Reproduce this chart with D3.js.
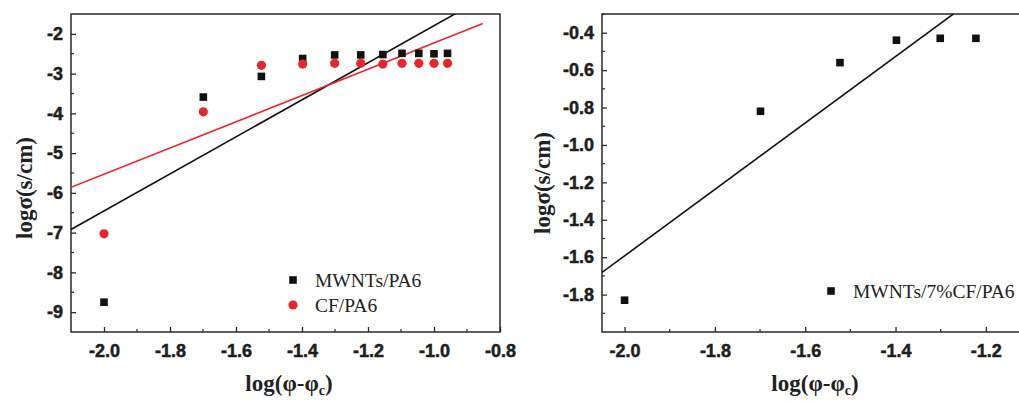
<!DOCTYPE html>
<html><head><meta charset="utf-8">
<script src="https://cdn.jsdelivr.net/npm/d3@7"></script>
<style>
body{margin:0;background:#fff;}
svg{display:block;}
</style></head>
<body>
<svg id="chart" width="1019" height="401"></svg>
<script>
// ---- data ----
const xLeft = [-2.0, -1.699, -1.523, -1.398, -1.301, -1.222, -1.155, -1.097, -1.046, -1.0, -0.959];
const mwntsPA6 = [-8.75, -3.59, -3.07, -2.62, -2.53, -2.53, -2.52, -2.49, -2.49, -2.50, -2.49];
const cfPA6 = [-7.03, -3.96, -2.79, -2.76, -2.74, -2.74, -2.76, -2.74, -2.74, -2.74, -2.74];
const xRight = [-2.0, -1.699, -1.523, -1.398, -1.301, -1.222];
const mwnts7cf = [-1.83, -0.82, -0.56, -0.44, -0.43, -0.43];
// linear fits: [intercept, slope, xStart, xEnd]
const fitMWNTs = [2.866, 4.66, -2.1, -0.8];
const fitCF = [1.07, 3.30, -2.1, -0.852];
const fitMix = [1.959, 1.776, -2.05, -1.1];
const xTicksLeft = [-2.0, -1.8, -1.6, -1.4, -1.2, -1.0, -0.8];
const yTicksLeft = [-9, -8, -7, -6, -5, -4, -3, -2];
const xTicksRight = [-2.0, -1.8, -1.6, -1.4, -1.2];
const yTicksRight = [-1.8, -1.6, -1.4, -1.2, -1.0, -0.8, -0.6, -0.4];

const svg = d3.select("#chart");
const RED = "#e8262b", AX = "#2a2a2a";
const hy = f => d => f(d).replace("\u2212", "-");

function panel(opt){
  const g = svg.append("g");
  const x = d3.scaleLinear().domain(opt.xDom).range([opt.left, opt.right]);
  const y = d3.scaleLinear().domain(opt.yDom).range([opt.bottom, opt.top]);
  const id = "clip" + opt.name;
  svg.append("clipPath").attr("id", id).append("rect")
    .attr("x", opt.left).attr("y", opt.top)
    .attr("width", opt.right - opt.left).attr("height", opt.bottom - opt.top);

  const xMinor = d3.range(Math.round(opt.xDom[0]*10), Math.round(opt.xDom[1]*10)+1).map(d=>d/10);
  const xa = d3.axisBottom(x).tickValues(opt.xTicks).tickFormat(hy(d3.format(".1f"))).tickSizeInner(-5).tickSizeOuter(0).tickPadding(12);
  const ya = d3.axisLeft(y).tickValues(opt.yTicks).tickFormat(hy(opt.yFmt)).tickSizeInner(-5).tickSizeOuter(0).tickPadding(8);
  const gx = g.append("g").attr("transform", `translate(0,${opt.bottom})`).call(xa);
  const gy = g.append("g").attr("transform", `translate(${opt.left},0)`).call(ya);
  [gx, gy].forEach(a => {
    a.select(".domain").remove();
    a.attr("font-family", null).attr("font-size", null);
    a.selectAll("line").attr("stroke", AX).attr("stroke-width", 1.3);
    a.selectAll("text").attr("font-family", "Arial, 'Liberation Sans', sans-serif").attr("font-weight", 700)
      .attr("font-size", 18).attr("fill", "#1e1e1e").attr("stroke", "#1e1e1e").attr("stroke-width", 0.5);
  });
  g.append("g").selectAll("line").data(xMinor.filter(v => !opt.xTicks.some(t => Math.abs(t - v) < 1e-6) && v > opt.xDom[0] && v < opt.xDom[1]))
    .join("line").attr("x1", d => x(d)).attr("x2", d => x(d)).attr("y1", opt.bottom).attr("y2", opt.bottom - 3)
    .attr("stroke", AX).attr("stroke-width", 1.2);
  const yMinorVals = opt.yTicks.map(v => v + opt.yMinor).concat([opt.yTicks[0] - opt.yMinor]).filter(v => v > opt.yDom[0] && v < opt.yDom[1]);
  g.append("g").selectAll("line").data(yMinorVals)
    .join("line").attr("y1", d => y(d)).attr("y2", d => y(d)).attr("x1", opt.left).attr("x2", opt.left + 3)
    .attr("stroke", AX).attr("stroke-width", 1.2);
  g.append("rect").attr("x", opt.left).attr("y", opt.top).attr("width", opt.right - opt.left).attr("height", opt.bottom - opt.top)
    .attr("fill", "none").attr("stroke", AX).attr("stroke-width", 1.5);

  const plot = g.append("g").attr("clip-path", `url(#${id})`);
  opt.fits.forEach(f => {
    const [a, b, x0, x1] = f.p;
    plot.append("line").attr("x1", x(x0)).attr("y1", y(a + b*x0)).attr("x2", x(x1)).attr("y2", y(a + b*x1))
      .attr("stroke", f.color).attr("stroke-width", 1.6);
  });
  opt.series.forEach(s => {
    const pts = s.xs.map((v, i) => [v, s.ys[i]]);
    if (s.shape === "square") {
      plot.append("g").selectAll("rect").data(pts).join("rect")
        .attr("x", d => x(d[0]) - 3.8).attr("y", d => y(d[1]) - 3.8).attr("width", 7.6).attr("height", 7.6).attr("fill", s.color);
    } else {
      plot.append("g").selectAll("circle").data(pts).join("circle")
        .attr("cx", d => x(d[0])).attr("cy", d => y(d[1])).attr("r", 4.6).attr("fill", s.color);
    }
  });
  opt.legend.forEach(l => {
    if (l.shape === "square") g.append("rect").attr("x", l.x - 3.8).attr("y", l.y - 3.8).attr("width", 7.6).attr("height", 7.6).attr("fill", l.color);
    else g.append("circle").attr("cx", l.x).attr("cy", l.y).attr("r", 4.6).attr("fill", l.color);
    g.append("text").attr("x", l.x + 22).attr("y", l.y + 7).text(l.label)
      .attr("font-family", "'Liberation Serif','Times New Roman',serif").attr("font-size", 19.5).attr("fill", "#222");
  });
  const xt = g.append("text").attr("x", opt.xTitle[0]).attr("y", opt.xTitle[1]).attr("text-anchor", "middle")
    .attr("font-family", "'Liberation Serif','Times New Roman',serif").attr("font-weight", "bold").attr("font-size", 23).attr("fill", "#222");
  xt.append("tspan").text("log(φ-φ");
  xt.append("tspan").attr("font-size", 14).attr("dy", 4).text("c");
  xt.append("tspan").attr("dy", -4).text(")");
  g.append("text").attr("transform", `translate(${opt.yTitle[0]},${opt.yTitle[1]}) rotate(-90)`).attr("text-anchor", "middle")
    .attr("font-family", "'Liberation Serif','Times New Roman',serif").attr("font-weight", "bold").attr("font-size", 23).attr("fill", "#222")
    .text("logσ(s/cm)");
}

panel({
  name: "L", left: 71, right: 500, top: 14, bottom: 332,
  xDom: [-2.1, -0.8], yDom: [-9.5, -1.5],
  xTicks: xTicksLeft, yTicks: yTicksLeft, yFmt: d3.format("d"), yMinor: 0.5,
  fits: [{p: fitMWNTs, color: "#111"}, {p: fitCF, color: RED}],
  series: [{xs: xLeft, ys: mwntsPA6, shape: "square", color: "#111"}, {xs: xLeft, ys: cfPA6, shape: "circle", color: RED}],
  legend: [{x: 293, y: 280, shape: "square", color: "#111", label: "MWNTs/PA6"}, {x: 293, y: 305, shape: "circle", color: RED, label: "CF/PA6"}],
  xTitle: [289, 391], yTitle: [32, 188]
});
panel({
  name: "R", left: 602, right: 1031, top: 14, bottom: 332,
  xDom: [-2.05, -1.1], yDom: [-2.0, -0.3],
  xTicks: xTicksRight, yTicks: yTicksRight, yFmt: d3.format(".1f"), yMinor: 0.1,
  fits: [{p: fitMix, color: "#111"}],
  series: [{xs: xRight, ys: mwnts7cf, shape: "square", color: "#111"}],
  legend: [{x: 831, y: 291, shape: "square", color: "#111", label: "MWNTs/7%CF/PA6"}],
  xTitle: [815, 391], yTitle: [550, 183]
});
</script>
</body></html>
